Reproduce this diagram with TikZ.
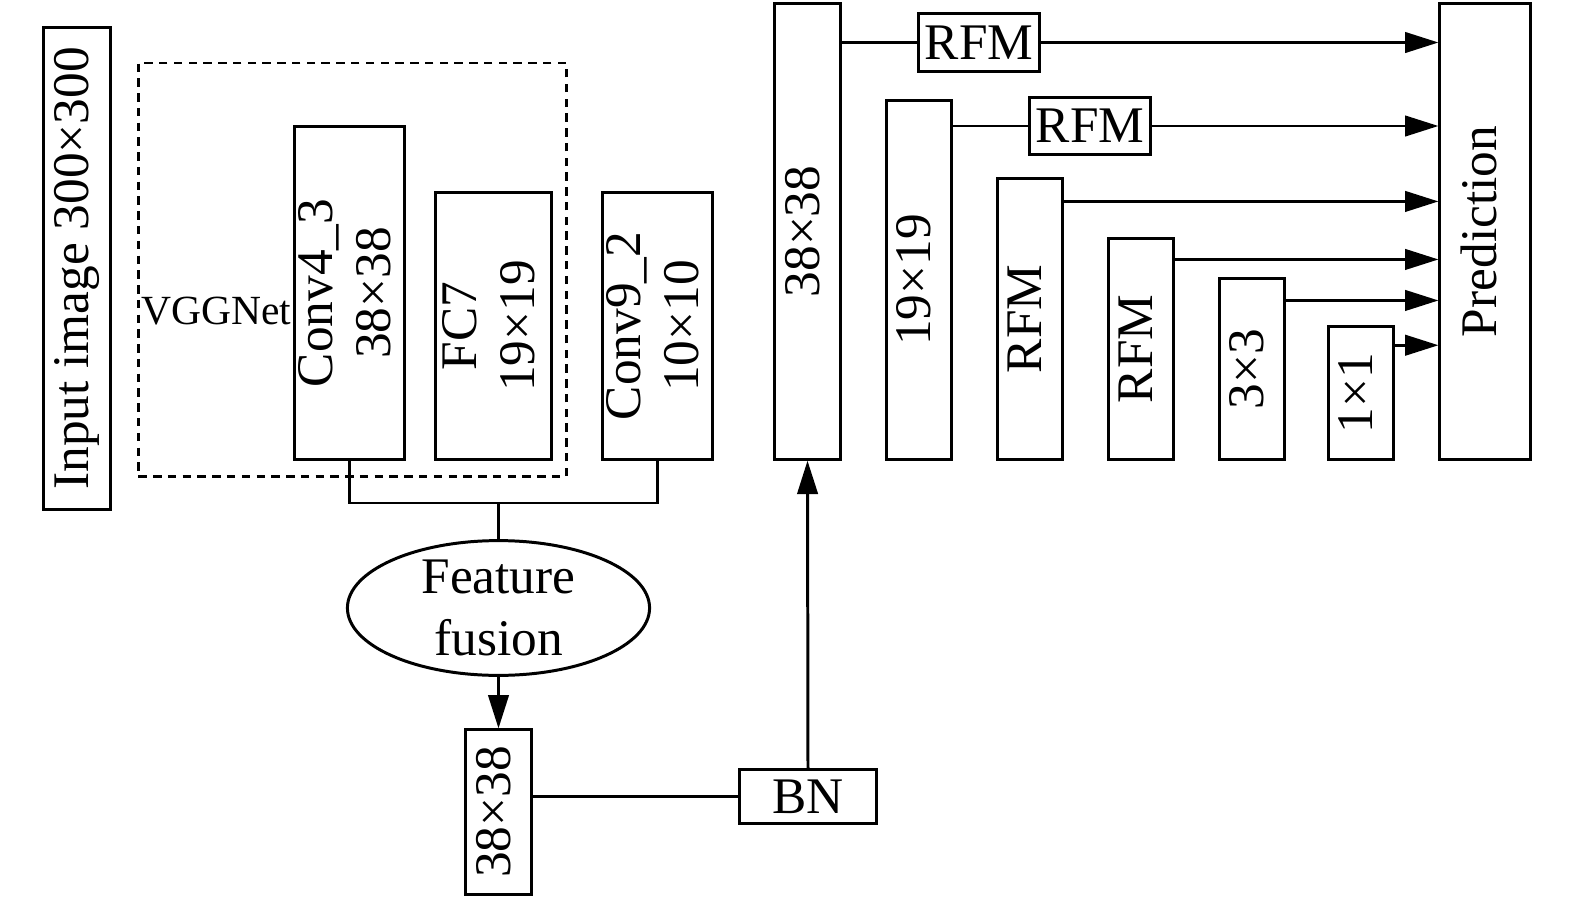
\documentclass[tikz,border=0pt]{standalone}
\usepackage{fontspec}
\setmainfont{Liberation Serif}
\usepackage{graphicx}
\usetikzlibrary{shapes.geometric, arrows.meta, positioning}

\newcommand{\vlabel}[1]{\makebox[0pt]{\rotatebox{90}{\begin{tabular}{@{}c@{}}#1\end{tabular}}}}

\begin{document}
\begin{tikzpicture}[x=0.01cm, y=-0.01cm, line width=0.85pt,
    >={Triangle[length=9.5pt, width=5.8pt]},
    every node/.style={font=\fontsize{14.6}{16.5}\selectfont, inner sep=0pt},
    blk/.style={draw, rectangle},
    ]
    \useasboundingbox (0,0) rectangle (1575,900);

    % backbone
    \node[blk, minimum width=0.67cm, minimum height=4.81cm] (input) at (77,268.5) {\vlabel{Input image 300×300}};
    \node[draw, line width=0.7pt, dash pattern=on 2.4pt off 1.8pt, minimum width=4.28cm, minimum height=4.13cm] (vgg) at (352.5,269.7) {};
    \node[anchor=west, font=\fontsize{11.8}{13}\selectfont] (vgglab) at (140,311) {VGGNet};
    \node[blk, minimum width=1.09cm, minimum height=3.32cm] (conv43) at (349.5,293) {\vlabel{Conv4\_3\\38×38}};
    \node[blk, minimum width=1.155cm, minimum height=2.66cm] (fc7) at (493.7,326) {\vlabel{FC7\\19×19}};
    \node[blk, minimum width=1.09cm, minimum height=2.66cm] (conv92) at (657.5,326) {\vlabel{Conv9\_2\\10×10}};

    % fusion
    \coordinate (fusebar) at (498.5,503);
    \node[draw, ellipse, align=center, minimum width=3.02cm, minimum height=1.26cm,
          font=\fontsize{14.6}{17.4}\selectfont] (fusion) at (498.5,608) {Feature\\fusion};
    \node[blk, minimum width=0.65cm, minimum height=1.64cm] (small) at (498.5,812) {\vlabel{38×38}};
    \node[blk, minimum width=1.36cm, minimum height=0.53cm] (bn) at (808,796.5) {BN};

    % detection layers
    \node[blk, minimum width=0.65cm, minimum height=4.55cm] (big38) at (807.5,231.5) {\vlabel{38×38}};
    \node[blk, minimum width=0.64cm, minimum height=3.585cm] (s19) at (919,280) {\vlabel{19×19}};
    \node[blk, minimum width=0.64cm, minimum height=2.80cm] (rfma) at (1030,319) {\vlabel{RFM}};
    \node[blk, minimum width=0.64cm, minimum height=2.20cm] (rfmb) at (1141,349) {\vlabel{RFM}};
    \node[blk, minimum width=0.64cm, minimum height=1.80cm] (s3) at (1252,369) {\vlabel{3×3}};
    \node[blk, minimum width=0.64cm, minimum height=1.325cm] (s1) at (1361,393) {\vlabel{1×1}};
    \node[blk, minimum width=0.90cm, minimum height=4.55cm] (pred) at (1485,231.5) {\vlabel{Prediction}};
    \node[blk, minimum width=1.20cm, minimum height=0.57cm] (rfm1) at (979,42.5) {RFM};
    \node[blk, minimum width=1.20cm, minimum height=0.565cm] (rfm2) at (1090,126) {RFM};

    \draw (conv43.south) |- (fusebar) -| (conv92.south);
    \draw (fusebar) -- (fusion.north);
    \draw[->] (fusion.south) -- (small.north);
    \draw (small.east |- bn.west) -- (bn.west);
    \draw[->] (bn.north) -- (big38.south);

    \draw (big38.east |- rfm1.west) -- (rfm1.west);
    \draw[->] (rfm1.east) -- (rfm1.east -| pred.west);
    \draw (s19.east |- rfm2.west) -- (rfm2.west);
    \draw[->] (rfm2.east) -- (rfm2.east -| pred.west);
    \foreach \b/\d in {rfma/0.24, rfmb/0.22, s3/0.23, s1/0.20}
        \draw[->] ([yshift=-\d cm]\b.north east) coordinate (t) -- (t -| pred.west);
\end{tikzpicture}
\end{document}
